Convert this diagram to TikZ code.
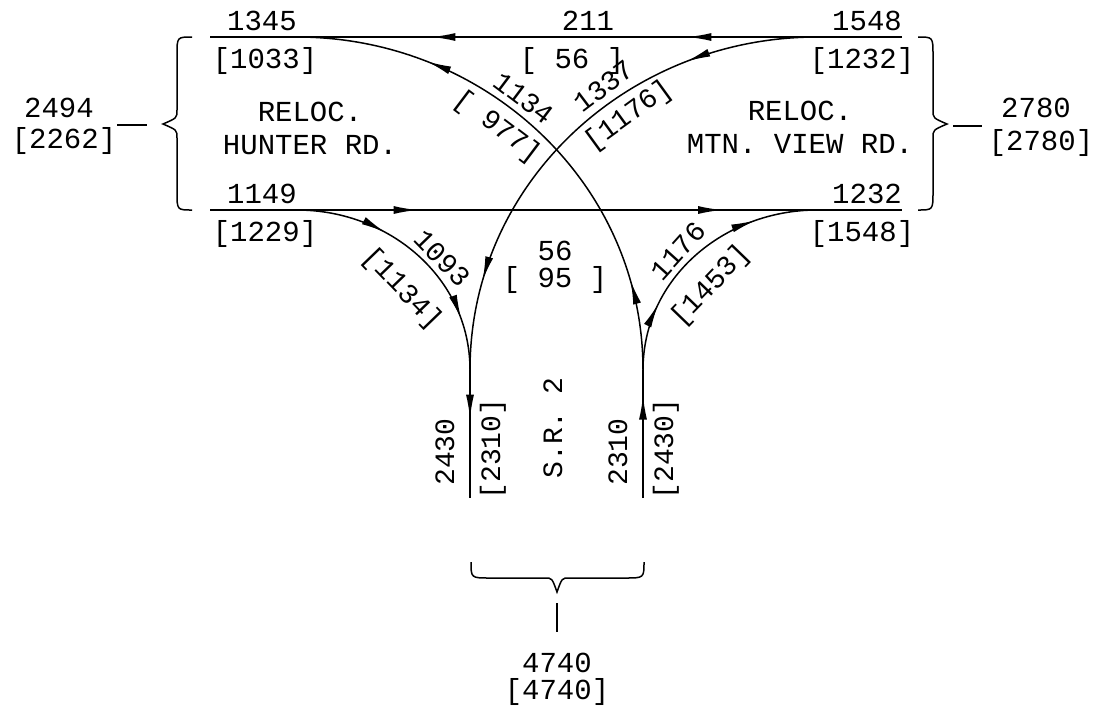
\documentclass[tikz,border=0pt]{standalone}
\usepackage{fontspec}
\setmainfont{Liberation Mono}
\usetikzlibrary{arrows.meta,decorations.markings}

\tikzset{
  >={Latex[length=24pt,width=8pt]},
  head/.style={decoration={markings, mark=at position #1 with {\arrow{>}}}, postaction={decorate}},
  heads/.style 2 args={decoration={markings, mark=at position #1 with {\arrow{>}}, mark=at position #2 with {\arrow{>}}}, postaction={decorate}}
}

\begin{document}
\begin{tikzpicture}[x=1pt, y=-1pt, line width=1.5pt]
        \tikzstyle{lbl} = [inner sep=0pt, anchor=base, font=\fontsize{29}{34}\selectfont]
        \tikzstyle{rlbl} = [inner sep=0pt, anchor=center, font=\fontsize{28}{34}\selectfont]

\useasboundingbox (0,0) rectangle (1096,716);

% road ends and merge points
\coordinate (tw) at (210,37);
        \coordinate (te) at (902,37);
        \coordinate (bw) at (210,210);
        \coordinate (be) at (902,210);
        \coordinate (th) at (297,37);
        \coordinate (tm) at (817,37);
        \coordinate (bh) at (297,210);
        \coordinate (bm) at (817,210);
        \coordinate (sl) at (470,370);
        \coordinate (sr) at (643,370);
        \coordinate (sle) at (470,498);
        \coordinate (sre) at (643,498);

% through roads
\draw[heads={0.31}{0.68}] (te) -- (tw);
        \draw[heads={0.3}{0.74}] (bw) -- (be);

% turning movements
\draw[heads={0.25}{0.83}] (tm) to[out=180, in=90] (sl);
        \draw[heads={0.35}{0.8}] (bh) to[out=0, in=90] (sl);
        \draw[heads={0.17}{0.75}] (sr) to[out=90, in=0] (th);
        \draw[heads={0.26}{0.76}] (sr) to[out=90, in=180] (bm);

% S.R. 2 legs
\draw[head=0.38] (sl) -- (sle);
        \draw[head=0.8] (sre) -- (sr);

% braces
\draw (192,37) .. controls (177,37) .. (177,55) -- (177,110) .. controls (177,118) .. (163,124)
              .. controls (177,130) .. (177,138) -- (177,192) .. controls (177,210) .. (192,210);
        \draw (918,37) .. controls (933,37) .. (933,55) -- (933,110) .. controls (933,118) .. (947,124)
              .. controls (933,130) .. (933,138) -- (933,192) .. controls (933,210) .. (918,210);
        \draw (471,562) .. controls (471,578) .. (490,578) -- (545,578) .. controls (552,578) .. (557,592)
              .. controls (562,578) .. (569,578) -- (625,578) .. controls (644,578) .. (644,562);

% leaders
\coordinate (wl1) at (117,125);
        \coordinate (wl2) at (147,125);
        \coordinate (el1) at (953,126);
        \coordinate (el2) at (982,126);
        \coordinate (sl1) at (557,603);
        \coordinate (sl2) at (557,632);
        \draw (wl1) -- (wl2);
        \draw (el1) -- (el2);
        \draw (sl1) -- (sl2);

% volumes on through roads
\node[lbl] (hTop) at (262,30) {1345};
        \node[lbl] (hTopB) at (265,68) {[1033]};
        \node[lbl] (mid) at (588,30) {211};
        \node[lbl] (midB) at (572,68) {[ 56 ]};
        \node[lbl] (mTop) at (867,30) {1548};
        \node[lbl] (mTopB) at (862,68) {[1232]};
        \node[lbl] (hBot) at (262,203) {1149};
        \node[lbl] (hBotB) at (265,241) {[1229]};
        \node[lbl] (mBot) at (867,203) {1232};
        \node[lbl] (mBotB) at (862,241) {[1548]};
        \node[lbl] (cross) at (555,260) {56};
        \node[lbl] (crossB) at (555,287) {[ 95 ]};

% road names and totals
\node[lbl] (hunter1) at (310,121) {RELOC.};
        \node[lbl] (hunter2) at (310,154) {HUNTER RD.};
        \node[lbl] (mtn1) at (800,120) {RELOC.};
        \node[lbl] (mtn2) at (800,153) {MTN. VIEW RD.};
        \node[lbl] (wTot) at (59,117) {2494};
        \node[lbl] (wTotB) at (64,148) {[2262]};
        \node[lbl] (eTot) at (1036,117) {2780};
        \node[lbl] (eTotB) at (1041,150) {[2780]};
        \node[lbl] (sTot) at (557,672) {4740};
        \node[lbl] (sTotB) at (557,699) {[4740]};

% turning volumes
\node[rlbl, rotate=-37] (t1) at (524,98) {1134};
        \node[rlbl, rotate=-37] (t1B) at (497,127) {[ 977]};
        \node[rlbl, rotate=37] (t2) at (604,86) {1337};
        \node[rlbl, rotate=36] (t2B) at (629,116) {[1176]};
        \node[rlbl, rotate=-46] (t3) at (442,258) {1093};
        \node[rlbl, rotate=-46] (t3B) at (402,289) {[1134]};
        \node[rlbl, rotate=48] (t4) at (678,251) {1176};
        \node[rlbl, rotate=46] (t4B) at (711,286) {[1453]};

% S.R. 2 legs
\node[rlbl, rotate=90] (s1) at (445,452) {2430};
        \node[rlbl, rotate=90] (s1B) at (493,449) {[2310]};
        \node[rlbl, rotate=90] (sname) at (553,428) {S.R. 2};
        \node[rlbl, rotate=90] (s2) at (618,452) {2310};
        \node[rlbl, rotate=90] (s2B) at (666,449) {[2430]};

\end{tikzpicture}
\end{document}
